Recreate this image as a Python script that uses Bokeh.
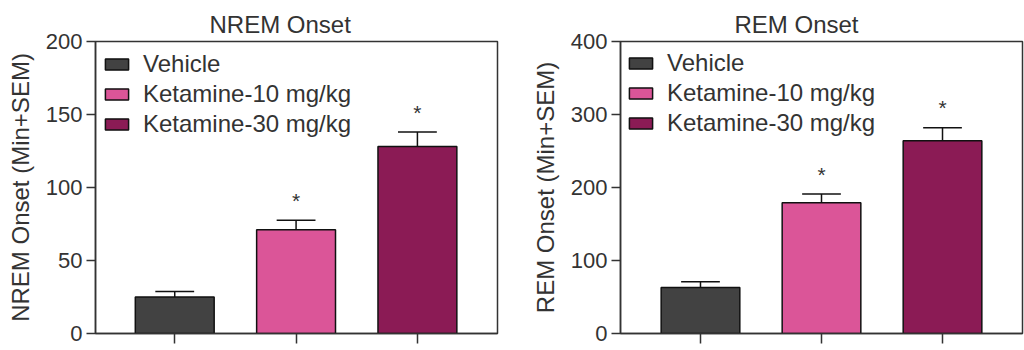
from bokeh.plotting import figure
from bokeh.layouts import row
from bokeh.models import Range1d, FixedTicker, ColumnDataSource, Legend, LegendItem
from bokeh.core.properties import value
from bokeh.embed import file_html
from bokeh.resources import INLINE

groups = ["Vehicle", "Ketamine-10 mg/kg", "Ketamine-30 mg/kg"]
colors = ["#424242", "#DB5598", "#8B1B55"]
positions = [1, 2, 3]

nrem_mean = [25, 71, 128]
nrem_sem = [3.7, 6.6, 10]
nrem_stars = ["", "*", "*"]

rem_mean = [63, 179, 264]
rem_sem = [8, 12, 18]
rem_stars = ["", "*", "*"]

FONT = "Liberation Sans"
TXT = "#333333"


def make_panel(title, ylabel, means, sems, stars, ymax, ystep, xr, borders, title_offset, leg_loc):
    left, right, top, bottom = borders
    p = figure(width=512, height=350, output_backend="svg", toolbar_location=None,
               x_range=Range1d(*xr), y_range=Range1d(0, ymax),
               min_border_left=left, min_border_right=right,
               min_border_top=top, min_border_bottom=bottom,
               background_fill_color="white", border_fill_color="white")
    p.xgrid.visible = False
    p.ygrid.visible = False
    p.outline_line_color = "#333333"
    p.outline_line_width = 1.5

    p.title.text = title
    p.title.text_font = FONT
    p.title.text_font_size = "24px"
    p.title.text_font_style = "normal"
    p.title.text_color = TXT
    p.title.align = "left"
    p.title.offset = title_offset
    p.title.standoff = 8

    tops = [m + s for m, s in zip(means, sems)]
    src = ColumnDataSource(dict(x=positions, top=means, err=tops, color=colors,
                                group=groups, star=stars))
    bars = p.vbar(x="x", top="top", bottom=0, width=0.65, fill_color="color",
                  line_color="#111111", line_width=1.5, source=src)
    p.segment(x0="x", y0="top", x1="x", y1="err", line_color="#111111", line_width=1.5, source=src)
    capsrc = ColumnDataSource(dict(x0=[x - 0.16 for x in positions], x1=[x + 0.16 for x in positions], y=tops))
    p.segment(x0="x0", y0="y", x1="x1", y1="y", line_color="#111111", line_width=1.5, source=capsrc)
    p.text(x="x", y="err", text="star", text_font=value(FONT), text_font_size="21px",
           text_color=TXT, text_align="center", text_baseline="alphabetic",
           y_offset=-20, source=src)

    items = [LegendItem(label=g, renderers=[bars], index=i) for i, g in enumerate(groups)]
    leg = Legend(items=items, location=leg_loc, margin=0, padding=0,
                 glyph_width=29, glyph_height=14, label_standoff=12,
                 label_height=26, spacing=2,
                 label_text_font=FONT, label_text_font_size="24px", label_text_color=TXT,
                 border_line_alpha=0, background_fill_alpha=0)
    p.add_layout(leg, "center")

    ya = p.yaxis[0]
    ya.ticker = FixedTicker(ticks=list(range(0, ymax + 1, ystep)))
    ya.axis_label = ylabel
    ya.axis_label_text_font = FONT
    ya.axis_label_text_font_size = "24px"
    ya.axis_label_text_font_style = "normal"
    ya.axis_label_text_color = TXT
    ya.axis_label_standoff = 9
    ya.major_label_text_font = FONT
    ya.major_label_text_font_size = "22px"
    ya.major_label_text_color = TXT
    ya.major_label_standoff = 4
    ya.major_tick_out = 9
    ya.major_tick_in = 0
    ya.minor_tick_line_color = None
    ya.axis_line_color = "#333333"
    ya.axis_line_width = 1.5
    ya.major_tick_line_color = "#333333"
    ya.major_tick_line_width = 1.5

    xa = p.xaxis[0]
    xa.ticker = FixedTicker(ticks=positions)
    xa.major_label_overrides = {1: "", 2: "", 3: ""}
    xa.major_tick_out = 10
    xa.major_tick_in = 0
    xa.minor_tick_line_color = None
    xa.axis_line_color = "#333333"
    xa.axis_line_width = 1.5
    xa.major_tick_line_color = "#333333"
    xa.major_tick_line_width = 1.5
    return p


p1 = make_panel("NREM Onset", "NREM Onset (Min+SEM)", nrem_mean, nrem_sem, nrem_stars,
                200, 50, (0.347, 3.66), (95, 15, 40, 17), 114, (7, 195))
p2 = make_panel("REM Onset", "REM Onset (Min+SEM)", rem_mean, rem_sem, rem_stars,
                400, 100, (0.339, 3.661), (108, 2, 41, 14), 114, (6, 196))

layout = row(p1, p2)
open("out.html", "w").write(file_html(layout, INLINE))
